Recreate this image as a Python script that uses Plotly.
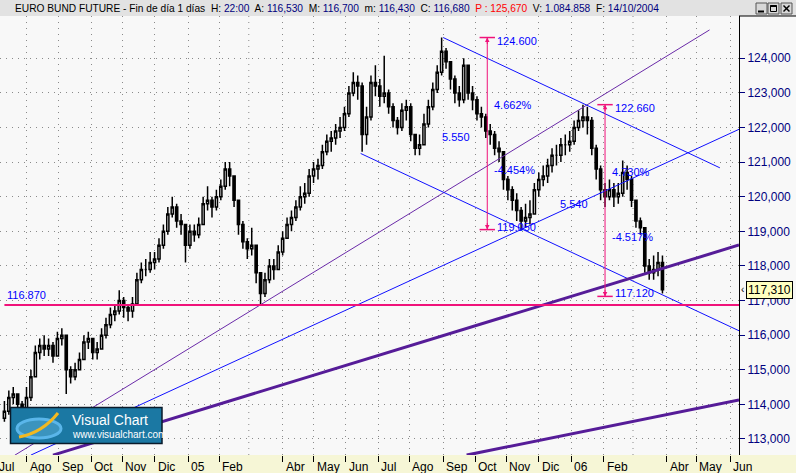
import plotly.graph_objects as go
import pandas as pd

# ---------------- data ----------------
# one candle every 3 trading days, first one on 2004-07-12
bar_start = "2004-07-12"
first_open = 113.6
close = [113.8, 114.2, 114.3, 114.0, 113.9, 114.2, 114.8, 115.5, 115.7, 115.6,
         115.7, 115.4, 115.9, 116.0, 115.0, 114.8, 115.0, 115.3, 115.8, 115.9,
         115.5, 115.6, 116.0, 116.3, 116.6, 116.7, 117.0, 116.8, 116.7, 116.9,
         117.6, 117.9, 117.9, 118.1, 118.2, 118.6, 119.0, 119.5, 119.7, 119.3,
         119.2, 118.6, 119.0, 118.9, 119.2, 119.8, 119.9, 119.7, 120.0, 120.3,
         120.8, 120.6, 119.9, 119.2, 118.7, 118.5, 118.6, 117.8, 117.2, 117.6,
         118.0, 117.9, 118.4, 118.8, 119.2, 119.4, 119.7, 120.0, 120.1, 120.6,
         120.8, 120.9, 121.3, 121.6, 121.7, 121.9, 122.0, 122.4, 123.0, 123.3,
         123.2, 121.8, 122.3, 123.3, 123.2, 122.9, 123.0, 122.6, 122.2, 122.0,
         122.5, 122.6, 121.8, 121.4, 121.5, 122.1, 122.6, 123.1, 123.6, 124.2,
         123.9, 123.4, 123.0, 122.8, 123.8, 123.0, 122.8, 122.4, 122.3, 121.9,
         121.8, 121.4, 121.3, 120.5, 120.2, 119.9, 119.6, 119.3, 119.4, 119.5,
         120.2, 120.5, 120.6, 120.9, 121.2, 121.2, 121.5, 121.5, 121.6, 122.0,
         122.2, 122.3, 122.2, 121.4, 120.8, 120.2, 120.0, 120.2, 120.0, 120.1,
         120.7, 120.5, 119.9, 119.3, 119.1, 118.0, 117.8, 117.9, 118.1, 117.31]
high = [114.1, 114.4, 114.5, 114.3, 114.1, 114.5, 115.0, 115.7, 115.9, 116.0,
        115.9, 115.8, 116.1, 116.2, 116.0, 115.1, 115.2, 115.5, 116.0, 116.1,
        115.9, 115.8, 116.2, 116.5, 116.8, 116.9, 117.3, 117.1, 116.9, 117.1,
        117.8, 118.1, 118.2, 118.4, 118.4, 118.8, 119.2, 119.7, 120.0, 119.8,
        119.5, 119.2, 119.2, 119.2, 119.4, 120.0, 120.3, 120.0, 120.2, 120.5,
        121.0, 121.0, 120.6, 119.9, 119.3, 118.8, 119.1, 118.6, 117.8, 117.8,
        118.2, 118.2, 118.6, 119.0, 119.4, 119.6, 119.9, 120.3, 120.4, 120.8,
        121.0, 121.1, 121.5, 121.8, 121.9, 122.1, 122.3, 122.6, 123.2, 123.6,
        123.5, 123.3, 122.6, 123.5, 123.8, 123.4, 124.07, 123.1, 122.7, 122.3,
        122.7, 122.8, 122.7, 121.8, 121.8, 122.4, 122.8, 123.3, 123.8, 124.6,
        124.3, 123.9, 123.5, 123.2, 124.0, 123.8, 123.2, 122.9, 122.6, 122.4,
        122.1, 121.9, 121.6, 121.3, 120.6, 120.3, 120.1, 119.7, 119.8, 119.9,
        120.4, 120.7, 120.9, 121.1, 121.4, 121.5, 121.7, 121.8, 121.9, 122.2,
        122.5, 122.66, 122.6, 122.3, 121.5, 120.9, 120.4, 120.5, 120.4, 120.4,
        121.05, 120.9, 120.6, 119.9, 119.4, 119.1, 118.2, 118.3, 118.4, 118.3]
low = [113.5, 113.7, 114.0, 113.8, 113.7, 113.8, 114.1, 114.8, 115.3, 115.4,
       115.4, 115.2, 115.4, 115.7, 114.3, 114.6, 114.7, 115.0, 115.3, 115.6,
       115.3, 115.3, 115.6, 115.9, 116.2, 116.4, 116.6, 116.5, 116.4, 116.5,
       116.9, 117.5, 117.7, 117.8, 117.9, 118.1, 118.5, 118.9, 119.4, 119.1,
       118.9, 118.1, 118.5, 118.7, 118.8, 119.2, 119.6, 119.4, 119.6, 119.9,
       120.2, 120.3, 119.7, 118.9, 118.5, 118.2, 118.3, 117.5, 116.87, 117.1,
       117.5, 117.6, 117.9, 118.3, 118.8, 119.0, 119.3, 119.6, 119.8, 120.0,
       120.4, 120.5, 120.8, 121.2, 121.3, 121.5, 121.7, 121.9, 122.3, 122.9,
       122.8, 121.3, 121.5, 122.2, 122.9, 122.6, 122.7, 122.4, 122.0, 121.8,
       121.9, 122.2, 121.6, 121.2, 121.2, 121.5, 122.0, 122.5, 123.0, 123.5,
       123.7, 123.1, 122.7, 122.6, 122.7, 122.8, 122.5, 122.2, 122.0, 121.7,
       121.5, 121.2, 121.0, 120.2, 119.9, 119.6, 119.3, 119.04, 119.1, 119.2,
       119.5, 120.0, 120.3, 120.4, 120.7, 120.9, 121.0, 121.2, 121.3, 121.5,
       121.9, 122.0, 121.8, 121.2, 120.5, 119.9, 119.7, 119.9, 119.7, 119.8,
       120.0, 120.2, 119.7, 119.1, 118.9, 117.8, 117.6, 117.6, 117.7, 117.2]

month_ticks = ["2004-08-02", "2004-09-01", "2004-10-01", "2004-11-01", "2004-12-01",
               "2005-01-03", "2005-02-01", "2005-04-01", "2005-05-02", "2005-06-01",
               "2005-07-01", "2005-08-01", "2005-09-01", "2005-10-03", "2005-11-01",
               "2005-12-01", "2006-01-02", "2006-02-01", "2006-04-03", "2006-05-01",
               "2006-06-01"]
month_labels = ["Ago", "Sep", "Oct", "Nov", "Dic", "05", "Feb", "Abr", "May", "Jun",
                "Jul", "Ago", "Sep", "Oct", "Nov", "Dic", "06", "Feb", "Abr", "May", "Jun"]
first_label = "Jul"
grid_only_months = ["2005-03-01", "2006-03-01"]
price_ticks = [113, 114, 115, 116, 117, 118, 119, 120, 121, 122, 123, 124]

support_level = 116.870
support_start = "2004-07-12"
last_price = 117.310

# trendlines: (start date, start price, end date, end price, kind)
trendlines = [
    ("2004-07-21", 112.53, "2006-05-12", 124.82, "thin_purple"),
    ("2004-08-05", 112.535, "2006-06-09", 121.948, "blue"),
    ("2005-06-15", 121.25, "2006-06-09", 116.127, "blue"),
    ("2005-09-01", 124.60, "2006-05-23", 120.835, "blue"),
    ("2004-08-26", 112.535, "2006-06-09", 118.604, "thick_purple"),
    ("2005-09-23", 112.535, "2006-06-09", 114.124, "thick_purple"),
]
measures = [
    {"date": "2005-10-13", "top": 124.600, "bottom": 119.050},
    {"date": "2006-02-02", "top": 122.660, "bottom": 117.120},
]

x_range = ["2004-07-07", "2006-06-09"]
y_range = [112.537, 125.222]

# ---------------- style ----------------
W, H = 796, 473
ML, MR, MT, MB = 0, 57, 16, 18
PW, PH = W - ML - MR, H - MT - MB
FONT = "Liberation Sans, Arial, sans-serif"
MAGENTA = "#f0127a"
BLUE = "#0000ff"
NAVY = "#00007f"
styles = {
    "thin_purple": dict(color="#6a2aa8", width=1),
    "blue": dict(color="#1010ff", width=1),
    "thick_purple": dict(color="#561c98", width=3),
}


def px(x):
    return (x - ML) / PW


def py(y):
    return (MT + PH - y) / PH


dates = pd.bdate_range(bar_start, periods=len(close), freq="3B")
opens = [first_open] + close[:-1]

fig = go.Figure()
fig.add_trace(go.Candlestick(
    x=dates, open=opens, high=high, low=low, close=close,
    increasing=dict(line=dict(color="black", width=1.5), fillcolor="white"),
    decreasing=dict(line=dict(color="black", width=1.5), fillcolor="black"),
    whiskerwidth=0, showlegend=False, hoverinfo="skip"))

for d0, p0, d1, p1, kind in trendlines:
    fig.add_trace(go.Scatter(x=[d0, d1], y=[p0, p1], mode="lines",
                             line=styles[kind], showlegend=False, hoverinfo="skip"))

# horizontal support line
fig.add_trace(go.Scatter(x=[support_start, x_range[1]], y=[support_level, support_level],
                         mode="lines", line=dict(color=MAGENTA, width=2),
                         showlegend=False, hoverinfo="skip"))

annotations = []
for m in measures:
    d, top, bot = m["date"], m["top"], m["bottom"]
    diff = top - bot
    fig.add_trace(go.Scatter(x=[d, d], y=[bot, top], mode="lines+markers",
                             line=dict(color=MAGENTA, width=1),
                             marker=dict(symbol="line-ew", size=11,
                                         line=dict(color=MAGENTA, width=1.5)),
                             showlegend=False, hoverinfo="skip"))
    for p, ay in ((top, 8), (bot, -8)):
        annotations.append(dict(x=d, y=p, xref="x", yref="y", text="", showarrow=True,
                                ax=0, ay=ay, arrowhead=2, arrowsize=0.9, arrowwidth=1,
                                arrowcolor=MAGENTA))
    labels = [
        (f"{top:.3f}", top, 8, "left", -3.5),
        (f"{diff / bot * 100:.3f}%", top - 0.35 * diff, 5, "left", 0),
        (f"{diff:.3f}", top - 0.52 * diff, -15, "right", 0),
        (f"-{diff / top * 100:.3f}%", top - 0.69 * diff, 5, "left", 0),
        (f"{bot:.3f}", bot, 8, "left", 3),
    ]
    for txt, p, xs, xa, ys in labels:
        annotations.append(dict(x=d, y=p, xref="x", yref="y", text=txt, showarrow=False,
                                xanchor=xa, yanchor="middle", xshift=xs, yshift=ys,
                                font=dict(family=FONT, size=11, color=BLUE)))

annotations.append(dict(x=px(5), y=support_level, xref="paper", yref="y",
                        text=f"{support_level:.3f}", showarrow=False, xanchor="left",
                        yanchor="middle", yshift=10,
                        font=dict(family=FONT, size=11, color=BLUE)))

# month labels (left aligned next to tick)
for d, lab in zip(month_ticks, month_labels):
    annotations.append(dict(x=d, y=0, xref="x", yref="paper", text=lab, showarrow=False,
                            xanchor="left", yanchor="top", xshift=1, yshift=-3,
                            font=dict(family=FONT, size=12, color="black")))
annotations.append(dict(x=px(-3), y=0, xref="paper", yref="paper", text=first_label,
                        showarrow=False, xanchor="left", yanchor="top", yshift=-3,
                        font=dict(family=FONT, size=12, color="black")))

# last price box
annotations.append(dict(x=1, y=last_price, xref="paper", yref="y",
                        text=f"{last_price:.3f}".replace(".", ","), showarrow=False,
                        xanchor="left", yanchor="middle", xshift=7,
                        bgcolor="#ffffc0", bordercolor="black", borderwidth=1, borderpad=1,
                        font=dict(family=FONT, size=12, color="black")))
annotations.append(dict(x=1, y=last_price, xref="paper", yref="y", text="‹",
                        showarrow=False, xanchor="left", yanchor="middle", xshift=0,
                        font=dict(family=FONT, size=10, color="black")))

# title bar text
V = NAVY
title = ("EURO BUND FUTURE - Fin de día 1 días&nbsp; H: "
         f"<span style='color:{V}'>22:00</span>&nbsp; A: <span style='color:{V}'>116,530</span>"
         f"&nbsp; M: <span style='color:{V}'>116,700</span>&nbsp; m: <span style='color:{V}'>116,430</span>"
         f"&nbsp; C: <span style='color:{V}'>116,680</span>&nbsp; <span style='color:#ff0000'>P : 125,670</span>"
         f"&nbsp; V: <span style='color:{V}'>1.084.858</span>&nbsp; F: <span style='color:{V}'>14/10/2004</span>")
annotations.append(dict(x=px(13), y=py(8), xref="paper", yref="paper", text=title,
                        showarrow=False, xanchor="left", yanchor="middle",
                        font=dict(family=FONT, size=10.2, color="black")))

# logo texts
annotations.append(dict(x=px(70), y=py(420), xref="paper", yref="paper", text="Visual Chart",
                        showarrow=False, xanchor="left", yanchor="middle",
                        font=dict(family=FONT, size=14, color="white")))
annotations.append(dict(x=px(70), y=py(434), xref="paper", yref="paper",
                        text="www.visualchart.com", showarrow=False, xanchor="left",
                        yanchor="middle", font=dict(family=FONT, size=10, color="white")))

shapes = []
# bottom strip & title bar
shapes.append(dict(type="rect", xref="paper", yref="paper", x0=px(0), x1=px(W),
                   y0=py(H), y1=py(MT + PH), fillcolor="#f6f6d6", line=dict(width=0),
                   layer="below"))
shapes.append(dict(type="rect", xref="paper", yref="paper", x0=px(0), x1=px(W),
                   y0=py(MT), y1=py(0), fillcolor="#e2e2e2", line=dict(width=0),
                   layer="below"))
shapes.append(dict(type="line", xref="paper", yref="paper", x0=px(739), x1=px(W),
                   y0=py(MT), y1=py(MT), line=dict(color="black", width=1)))
# window buttons
for bx in (756, 768, 781):
    shapes.append(dict(type="rect", xref="paper", yref="paper", x0=px(bx), x1=px(bx + 11),
                       y0=py(14), y1=py(3), fillcolor="#d8d8d8",
                       line=dict(color="#555", width=1)))
shapes.append(dict(type="line", xref="paper", yref="paper", x0=px(758), x1=px(764),
                   y0=py(11.5), y1=py(11.5), line=dict(color="black", width=2)))
shapes.append(dict(type="rect", xref="paper", yref="paper", x0=px(770.5), x1=px(776.5),
                   y0=py(11.5), y1=py(5.5), line=dict(color="black", width=1)))
shapes.append(dict(type="line", xref="paper", yref="paper", x0=px(770.5), x1=px(776.5),
                   y0=py(6), y1=py(6), line=dict(color="black", width=2)))
shapes.append(dict(type="line", xref="paper", yref="paper", x0=px(783.5), x1=px(789.5),
                   y0=py(5.5), y1=py(11.5), line=dict(color="black", width=1.5)))
shapes.append(dict(type="line", xref="paper", yref="paper", x0=px(783.5), x1=px(789.5),
                   y0=py(11.5), y1=py(5.5), line=dict(color="black", width=1.5)))
# March gridlines (no label)
for d in grid_only_months:
    shapes.append(dict(type="line", xref="x", yref="paper", x0=d, x1=d, y0=0, y1=1,
                       line=dict(color="#8a8a8a", width=1, dash="1px,5px"), layer="below"))
# logo
shapes.append(dict(type="rect", xref="paper", yref="paper", x0=px(10.5), x1=px(162),
                   y0=py(443.5), y1=py(407.5), fillcolor="#1b78a3",
                   line=dict(color="#0a1a2a", width=1.5)))
shapes.append(dict(type="circle", xref="paper", yref="paper", x0=px(17), x1=px(61),
                   y0=py(438), y1=py(419), fillcolor="rgba(120,200,240,0.35)",
                   line=dict(color="#5ab6ea", width=3)))
shapes.append(dict(type="path", xref="paper", yref="paper",
                   path=f"M {px(19)},{py(437)} Q {px(42)},{py(433)} {px(58)},{py(413)}",
                   line=dict(color="#f2b820", width=3)))

fig.update_layout(
    width=W, height=H, margin=dict(l=ML, r=MR, t=MT, b=MB, pad=0),
    paper_bgcolor="#f8f8f8", plot_bgcolor="#f8f8f8",
    separators=",.", showlegend=False,
    annotations=annotations, shapes=shapes,
    xaxis=dict(type="date", range=x_range,
               rangebreaks=[dict(bounds=["sat", "mon"])],
               rangeslider=dict(visible=False),
               tickmode="array", tickvals=month_ticks, showticklabels=False,
               ticks="outside", ticklen=6, tickcolor="black", tickwidth=1,
               showgrid=True, gridcolor="#8a8a8a", griddash="1px,5px", gridwidth=1,
               zeroline=False, showline=False, fixedrange=True),
    yaxis=dict(side="right", range=y_range, tickmode="array", tickvals=price_ticks,
               tickformat=".3f", ticks="outside", ticklen=5, tickcolor=NAVY,
               tickfont=dict(family=FONT, size=12, color=NAVY),
               showgrid=True, gridcolor="#8a8a8a", griddash="1px,5px", gridwidth=1,
               zeroline=False, showline=True, linecolor="black", linewidth=1,
               fixedrange=True),
)

fig.write_html("out.html", config={"displayModeBar": False},
               post_script="document.body.style.margin='0px';document.body.style.overflow='hidden';")
